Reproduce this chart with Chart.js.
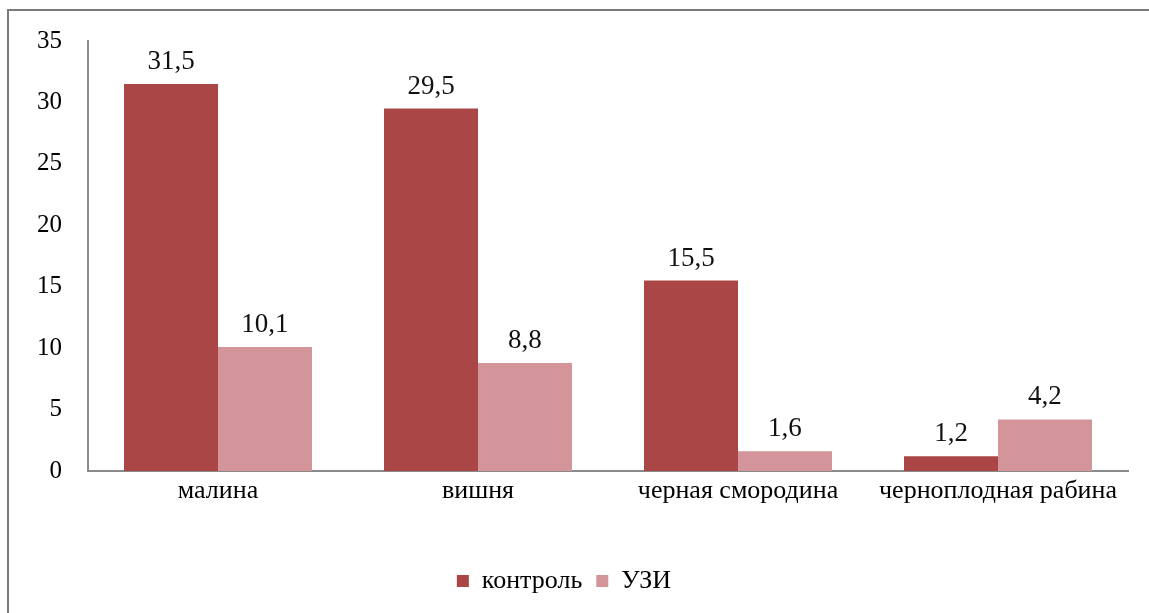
<!DOCTYPE html>
<html lang="ru">
<head>
<meta charset="utf-8">
<script src="https://cdn.jsdelivr.net/npm/chart.js@4"></script>
<style>
  html, body { margin: 0; padding: 0; background: #fff; overflow: hidden; }
  #frame { position: absolute; left: 7px; top: 9px; width: 1200px; height: 700px; border-left: 2px solid #7a7a7a; border-top: 2px solid #7a7a7a; }
  #wrap { position: absolute; left: 0; top: 0; width: 1149px; height: 613px; }
</style>
</head>
<body>
<div id="frame"></div>
<div id="wrap"><canvas id="myChart"></canvas></div>
<script>
/************************* données *************************/
const categories = ['малина', 'вишня', 'черная смородина', 'черноплодная рабина'];
const controle = [31.5, 29.5, 15.5, 1.2];
const uzi = [10.1, 8.8, 1.6, 4.2];
const yTicks = [0, 5, 10, 15, 20, 25, 30, 35];

const serif = '"Liberation Serif", "Times New Roman", serif';

// valeurs au-dessus des barres, avec la virgule
const etiquettes = {
  id: 'etiquettes',
  afterDatasetsDraw(chart) {
    const ctx = chart.ctx;
    ctx.save();
    ctx.font = '27px ' + serif;
    ctx.fillStyle = '#111';
    ctx.textAlign = 'center';
    ctx.textBaseline = 'middle';
    chart.data.datasets.forEach((ds, i) => {
      chart.getDatasetMeta(i).data.forEach((bar, j) => {
        ctx.fillText(String(ds.data[j]).replace('.', ','), bar.x, bar.y - 22);
      });
    });
    ctx.restore();
  }
};

function dessiner() {
  const ctx = document.getElementById('myChart');
  new Chart(ctx, {
    type: 'bar',
    data: {
      labels: categories,
      datasets: [{
        label: 'контроль',
        data: controle,
        backgroundColor: '#AA4646',
        borderWidth: 0
      },
      {
        label: 'УЗИ',
        data: uzi,
        backgroundColor: '#D4959A',
        borderWidth: 0
      }]
    },
    options: {
      responsive: true,
      maintainAspectRatio: false,
      animation: false,
      layout: { padding: { left: 0, right: 21, top: 37, bottom: 9 } },
      datasets: { bar: { categoryPercentage: 0.723, barPercentage: 1 } },
      plugins: {
        legend: {
          position: 'bottom',
          labels: {
            color: '#000',
            font: { family: serif, size: 26 },
            boxWidth: 12,
            boxHeight: 12,
            padding: 14
          }
        },
        tooltip: { enabled: false }
      },
      scales: {
        x: {
          grid: { display: false, drawTicks: false },
          border: { display: true, color: '#8a8a8a', width: 2 },
          ticks: { color: '#000', font: { family: serif, size: 26 }, padding: 5, maxRotation: 0 },
          afterFit(scale) { scale.height = 83; }
        },
        y: {
          min: 0,
          max: 35,
          afterBuildTicks(scale) { scale.ticks = yTicks.map(v => ({ value: v })); },
          grid: { display: false, drawTicks: false },
          border: { display: true, color: '#8a8a8a', width: 2 },
          ticks: { color: '#000', font: { family: serif, size: 25 }, padding: 26 },
          afterFit(scale) { scale.width = 88; }
        }
      }
    },
    plugins: [etiquettes]
  });
}

document.fonts.load('26px "Liberation Serif"', 'малина').then(dessiner, dessiner);
</script>
</body>
</html>
